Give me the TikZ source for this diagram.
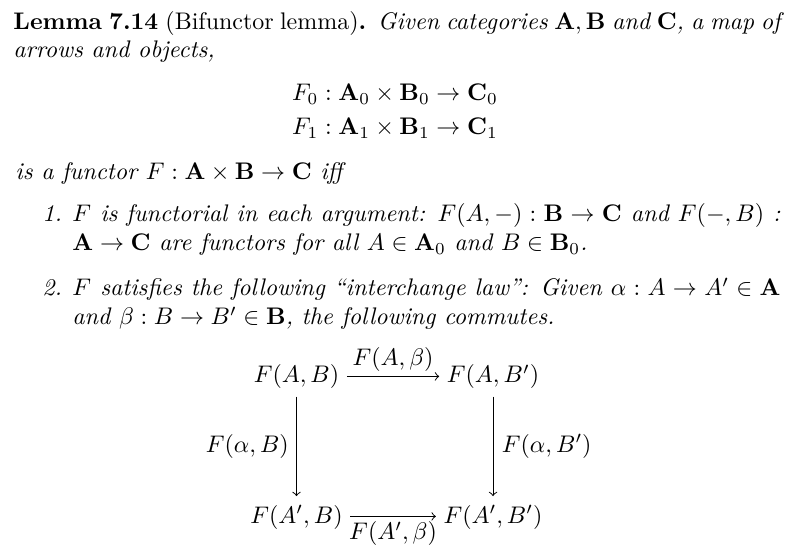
\documentclass[tikz,border=0pt]{standalone}
\usepackage{amsmath,amssymb}

\tikzstyle{every node}=[inner sep=0pt]
\tikzstyle{textline}=[anchor=base west, font=\itshape]
\tikzstyle{disp}=[anchor=base]
\tikzstyle{obj}=[anchor=base, inner sep=3pt, text height=8pt, text depth=2.5pt]
\tikzstyle{lbl}=[inner sep=2pt]

\begin{document}
\begin{tikzpicture}[x=0.41667pt, y=-0.41667pt]
    \useasboundingbox (0,0) rectangle (808,560);

    % statement
    \path (13,29.5) node[textline] (l1)
      {\makebox[319.6pt][s]{\upshape\bfseries Lemma 7.14 \mdseries(Bifunctor lemma)\bfseries. \itshape\mdseries Given categories $\mathbf{A},\mathbf{B}$ and $\mathbf{C}$, a map of}};
    \path (13,57.5) node[textline] (l2) {arrows and objects,};

    \foreach \i/\y in {0/101, 1/135}
    {
      \path (395,\y) node[disp] (f\i) {$F_{\i} : \mathbf{A}_{\i}\times\mathbf{B}_{\i}\to\mathbf{C}_{\i}$};
    }

    \path (15,180) node[textline] (l3) {is a functor $F : \mathbf{A}\times\mathbf{B}\to\mathbf{C}$ iff};

    % items
    \path (42,221.5) node[textline] (n1) {1.};
    \path (72,221.5) node[textline] (i1a)
      {\makebox[295pt][s]{$F$ is functorial in each argument: $F(A,-) : \mathbf{B}\to\mathbf{C}$ and $F(-,B)$ :}};
    \path (72,251) node[textline] (i1b)
      {$\mathbf{A}\to\mathbf{C}$ are functors for all $A\in\mathbf{A}_0$ and $B\in\mathbf{B}_0$.};
    \path (42,296) node[textline] (n2) {2.};
    \path (72,296) node[textline] (i2a)
      {\makebox[295pt][s]{$F$ satisfies the following ``interchange law'': Given $\alpha : A\to A'\in\mathbf{A}$}};
    \path (72,325) node[textline] (i2b)
      {and $\beta : B\to B'\in\mathbf{B}$, the following commutes.};

    % square
    \path (296.5,383) node[obj] (AB)   {$F(A,B)$}
          (493,383)   node[obj] (ABp)  {$F(A,B')$}
          (296.5,523) node[obj] (ApB)  {$F(A',B)$}
          (493,523)   node[obj] (ApBp) {$F(A',B')$};

    \draw[->] (AB) -- node[lbl, above] {$F(A,\beta)$} (ABp);
    \draw[->] (AB) -- node[lbl, left, inner sep=3pt] {$F(\alpha,B)$} (ApB);
    \draw[->] (ABp) -- node[lbl, right, inner sep=3.5pt] {$F(\alpha,B')$} (ApBp);
    \draw[->] (ApB) -- node[lbl, below] {$F(A',\beta)$} (ApBp);
\end{tikzpicture}
\end{document}
